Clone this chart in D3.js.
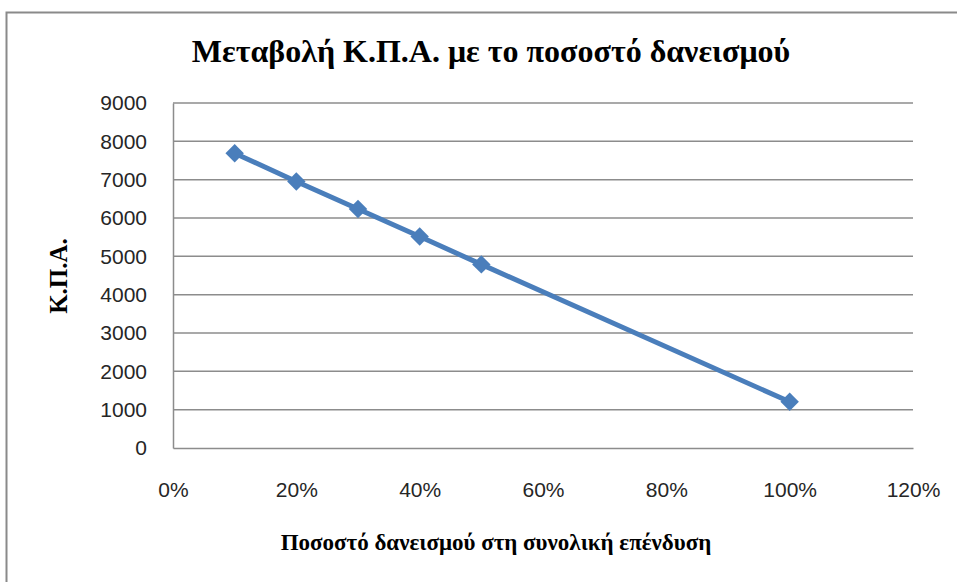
<!DOCTYPE html>
<html>
<head>
<meta charset="utf-8">
<script src="https://cdn.jsdelivr.net/npm/d3@7"></script>
<style>
  body { margin: 0; background: #fff; }
  svg { display: block; }
</style>
</head>
<body>
<svg width="957" height="582"></svg>
<script>
// values
var shares = [0.1, 0.2, 0.3, 0.4, 0.5, 1.0];
var kpa = [7690, 6950, 6235, 5515, 4790, 1205];
var yTicks = [0, 1000, 2000, 3000, 4000, 5000, 6000, 7000, 8000, 9000];
var xTicks = [0, 0.2, 0.4, 0.6, 0.8, 1.0, 1.2];

var titleText = "Μεταβολή Κ.Π.Α. με το ποσοστό δανεισμού";
var xTitle = "Ποσοστό δανεισμού στη συνολική επένδυση";
var yTitle = "Κ.Π.Α.";

var svg = d3.select("svg");

// outer chart frame (runs off the right and bottom of the picture)
svg.append("rect")
  .attr("x", 6.5).attr("y", 12.5)
  .attr("width", 1000).attr("height", 700)
  .attr("fill", "#fff")
  .attr("stroke", "#8a8a8a")
  .attr("stroke-width", 2);

// plot area edges
var plotL = 173, plotR = 913, plotT = 103, plotB = 448;

var x = d3.scaleLinear().domain([0, 1.2]).range([plotL, plotR]);
var y = d3.scaleLinear().domain([0, 9000]).range([plotB, plotT]);

// horizontal gridlines
svg.append("g")
  .selectAll("line")
  .data(yTicks.filter(function(d) { return d > 0; }))
  .enter()
  .append("line")
  .attr("x1", plotL).attr("x2", plotR)
  .attr("y1", function(d) { return y(d); })
  .attr("y2", function(d) { return y(d); })
  .attr("stroke", "#8c8c8c")
  .attr("stroke-width", 1.5);

// y axis
var yAxis = svg.append("g")
  .attr("transform", "translate(" + plotL + ",0)")
  .call(d3.axisLeft(y).tickValues(yTicks).tickSize(0).tickPadding(26)
    .tickFormat(d3.format("d")));
yAxis.select(".domain").attr("stroke", "#8c8c8c").attr("stroke-width", 1.5);
yAxis.selectAll("text")
  .attr("font-family", "'Liberation Sans', Arial, sans-serif")
  .attr("font-size", 21)
  .attr("fill", "#262626");

// x axis
var xAxis = svg.append("g")
  .attr("transform", "translate(0," + plotB + ")")
  .call(d3.axisBottom(x).tickValues(xTicks).tickSize(0).tickPadding(34)
    .tickFormat(d3.format(".0%")));
xAxis.select(".domain").attr("stroke", "#8c8c8c").attr("stroke-width", 1.5);
xAxis.selectAll("text")
  .attr("font-family", "'Liberation Sans', Arial, sans-serif")
  .attr("font-size", 21)
  .attr("fill", "#262626");

// series line
var pts = shares.map(function(s, i) { return [s, kpa[i]]; });
var line = d3.line()
  .x(function(d) { return x(d[0]); })
  .y(function(d) { return y(d[1]); });

svg.append("path")
  .datum(pts)
  .attr("d", line)
  .attr("fill", "none")
  .attr("stroke", "#4a7ebb")
  .attr("stroke-width", 5)
  .attr("stroke-linejoin", "round");

// diamond markers
svg.append("g")
  .selectAll("path")
  .data(pts)
  .enter()
  .append("path")
  .attr("d", d3.symbol().type(d3.symbolSquare).size(170))
  .attr("transform", function(d) {
    return "translate(" + x(d[0]) + "," + y(d[1]) + ") rotate(45)";
  })
  .attr("fill", "#4a7ebb");

// titles
svg.append("text")
  .attr("x", 491).attr("y", 62)
  .attr("text-anchor", "middle")
  .attr("font-family", "'Liberation Serif', 'Times New Roman', serif")
  .attr("font-weight", "bold")
  .attr("font-size", 32)
  .attr("fill", "#000")
  .text(titleText);

svg.append("text")
  .attr("x", 496).attr("y", 550)
  .attr("text-anchor", "middle")
  .attr("font-family", "'Liberation Serif', 'Times New Roman', serif")
  .attr("font-weight", "bold")
  .attr("font-size", 23)
  .attr("fill", "#000")
  .text(xTitle);

svg.append("text")
  .attr("transform", "translate(67,276) rotate(-90)")
  .attr("text-anchor", "middle")
  .attr("font-family", "'Liberation Serif', 'Times New Roman', serif")
  .attr("font-weight", "bold")
  .attr("font-size", 25)
  .attr("fill", "#000")
  .text(yTitle);
</script>
</body>
</html>
